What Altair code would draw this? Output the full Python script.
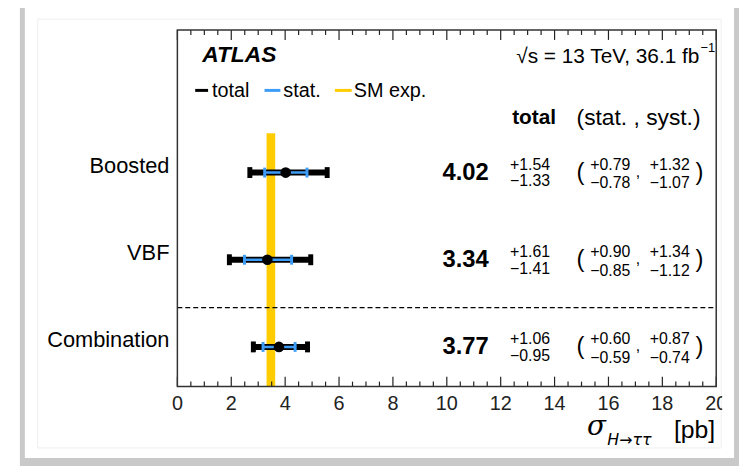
import altair as alt
import pandas as pd

# ---------------- data ----------------
categories = ["Boosted", "VBF", "Combination"]
row_pos = [2, 1, 0]
central = [4.02, 3.34, 3.77]
tot_up = [1.54, 1.61, 1.06]
tot_dn = [1.33, 1.41, 0.95]
stat_up = [0.79, 0.90, 0.60]
stat_dn = [0.78, 0.85, 0.59]
syst_up = [1.32, 1.34, 0.87]
syst_dn = [1.07, 1.12, 0.74]
sm_lo, sm_hi = 3.31, 3.63
sm_top = 2.45
sep_y = 0.45
major_ticks = [0, 2, 4, 6, 8, 10, 12, 14, 16, 18, 20]
minor_ticks = [i * 0.5 for i in range(41) if i % 4]

W, H = 544, 360
FONT = "Liberation Sans"
BLUE = "#3d9cf5"
GOLD = "#ffcc00"

df = pd.DataFrame({
    "cat": categories,
    "row": row_pos,
    "val": central,
    "lo": [c - d for c, d in zip(central, tot_dn)],
    "hi": [c + u for c, u in zip(central, tot_up)],
    "slo": [c - d for c, d in zip(central, stat_dn)],
    "shi": [c + u for c, u in zip(central, stat_up)],
    "t_val": [f"{c:.2f}" for c in central],
    "t_tu": [f"+{u:.2f}" for u in tot_up],
    "t_td": [f"\u2212{d:.2f}" for d in tot_dn],
    "t_su": [f"+{u:.2f}" for u in stat_up],
    "t_sd": [f"\u2212{d:.2f}" for d in stat_dn],
    "t_yu": [f"+{u:.2f}" for u in syst_up],
    "t_yd": [f"\u2212{d:.2f}" for d in syst_dn],
})
sm_df = pd.DataFrame({"lo": [sm_lo], "hi": [sm_hi], "top": [sm_top]})
sep_df = pd.DataFrame({"y": [sep_y]})
maj_df = pd.DataFrame({"t": major_ticks})
min_df = pd.DataFrame({"t": minor_ticks})
one = pd.DataFrame({"a": [0]})

xs = alt.Scale(domain=[0, 20], nice=False, zero=False)
ys = alt.Scale(domain=[-0.455, 3.636], nice=False, zero=False)

def X(f):
    return alt.X(f, type="quantitative", scale=xs, axis=None)

def Y(f):
    return alt.Y(f, type="quantitative", scale=ys, axis=None)

layers = []

# ---------------- card decoration ----------------
layers.append(alt.Chart(one).mark_rect(fill="#c9c9c9").encode(
    x=alt.value(-159), x2=alt.value(567), y=alt.value(-27), y2=alt.value(444)))
layers.append(alt.Chart(one).mark_rect(fill="white").encode(
    x=alt.value(-154), x2=alt.value(562), y=alt.value(-23), y2=alt.value(432)))
layers.append(alt.Chart(one).mark_rect(fill="white", stroke="#eeeeee", strokeWidth=1).encode(
    x=alt.value(-141), x2=alt.value(549), y=alt.value(-11), y2=alt.value(422)))

# ---------------- SM band ----------------
layers.append(alt.Chart(sm_df).mark_rect(color=GOLD).encode(
    x=X("lo"), x2="hi", y=Y("top"), y2=alt.value(H)))

# ---------------- separator ----------------
layers.append(alt.Chart(sep_df).mark_rule(color="black", strokeWidth=1.2, strokeDash=[5, 3]).encode(
    y=Y("y"), x=alt.value(0), x2=alt.value(W)))

# ---------------- error bars ----------------
layers.append(alt.Chart(df).mark_rule(color="black", strokeWidth=6).encode(
    x=X("lo"), x2="hi", y=Y("row")))
layers.append(alt.Chart(df).transform_fold(["lo", "hi"]).mark_tick(
    color="black", thickness=5, size=11, orient="vertical", opacity=1).encode(
    x=X("value"), y=Y("row")))
layers.append(alt.Chart(df).mark_rule(color=BLUE, strokeWidth=2.5).encode(
    x=X("slo"), x2="shi", y=Y("row")))
layers.append(alt.Chart(df).transform_fold(["slo", "shi"]).mark_tick(
    color=BLUE, thickness=3, size=10, orient="vertical", opacity=1).encode(
    x=X("value"), y=Y("row")))
layers.append(alt.Chart(df).mark_circle(color="black", size=115, opacity=1).encode(
    x=X("val"), y=Y("row")))

# ---------------- ticks ----------------
for d, ln in ((maj_df, 10), (min_df, 5)):
    layers.append(alt.Chart(d).mark_rule(color="#222222", strokeWidth=1.2).encode(
        x=X("t"), y=alt.value(H), y2=alt.value(H - ln)))
    layers.append(alt.Chart(d).mark_rule(color="#222222", strokeWidth=1.2).encode(
        x=X("t"), y=alt.value(0), y2=alt.value(ln)))

# tick labels
layers.append(alt.Chart(maj_df).mark_text(font=FONT, fontSize=20, align="center", baseline="middle",
                                          color="#222222").encode(
    x=X("t"), y=alt.value(H + 18), text=alt.Text("t", type="quantitative", format="d")))

# hide the part of the last label beyond the clipped picture edge
layers.append(alt.Chart(one).mark_rect(fill="white").encode(
    x=alt.value(550), x2=alt.value(561), y=alt.value(362), y2=alt.value(395)))

# ---------------- frame ----------------
layers.append(alt.Chart(one).mark_rect(fill="white", fillOpacity=0, stroke="#333333", strokeWidth=1.5).encode(
    x=alt.value(0), x2=alt.value(W), y=alt.value(0), y2=alt.value(H)))

# ---------------- row texts ----------------
def row_text(col, px, dy, size, align="center", weight="normal"):
    return alt.Chart(df).mark_text(font=FONT, fontSize=size, align=align, baseline="middle",
                                   dy=dy, fontWeight=weight, color="black").encode(
        x=alt.value(px), y=Y("row"), text=alt.Text(col, type="nominal"))

layers.append(row_text("cat", -8, -7, 22, align="right"))
layers.append(row_text("t_val", 291, 0, 24, weight="bold"))
layers.append(row_text("t_tu", 356, -8, 16))
layers.append(row_text("t_td", 356, 9, 16))
layers.append(row_text("t_su", 437, -8, 16))
layers.append(row_text("t_sd", 437, 11, 16))
layers.append(row_text("t_yu", 497, -8, 16))
layers.append(row_text("t_yd", 497, 11, 16))

def row_const(txt, px, dy, size):
    return alt.Chart(df).mark_text(font=FONT, fontSize=size, align="center", baseline="middle",
                                   dy=dy, color="black", text=txt).encode(
        x=alt.value(px), y=Y("row"))

layers.append(row_const("(", 407, 0, 24))
layers.append(row_const(",", 465, -1, 16))
layers.append(row_const(")", 527, 0, 24))

# ---------------- annotations ----------------
def note(txt, px, py, size, align="left", weight="normal", style="normal", font=FONT):
    return alt.Chart(one).mark_text(text=txt, font=font, fontSize=size, align=align,
                                    baseline="middle", fontWeight=weight, fontStyle=style,
                                    color="black").encode(x=alt.value(px), y=alt.value(py))

layers.append(note("ATLAS", 25, 25, 23, weight="bold", style="italic"))
layers.append(note("\u221as = 13 TeV, 36.1 fb", 527, 27, 21, align="right"))
layers.append(note("\u22121", 528, 18, 13))

leg = [("black", 18, 31, "total", 35), (BLUE, 88, 104, "stat.", 107), (GOLD, 159, 176, "SM exp.", 178)]
for col, a, b, txt, tx in leg:
    layers.append(alt.Chart(one).mark_rule(color=col, strokeWidth=3).encode(
        x=alt.value(a), x2=alt.value(b), y=alt.value(61)))
    layers.append(note(txt, tx, 62, 20))

layers.append(note("total", 338, 89, 21, weight="bold"))
layers.append(note("(stat. , syst.)", 403, 89, 23))

layers.append(note("\u03c3", 423, 401, 28, align="center", style="italic", font="DejaVu Serif"))
layers.append(note("H\u2192\u03c4\u03c4", 434, 414, 16, style="italic", font="DejaVu Sans"))
layers.append(note("[pb]", 543, 404, 25, align="right"))

chart = alt.layer(*layers).properties(
    width=W, height=H,
    autosize=alt.AutoSizeParams(type="none"),
    padding={"left": 171, "top": 20, "right": 24, "bottom": 78},
    background="white",
).configure_view(stroke=None)

chart.save("out.html", embed_options={"renderer": "svg", "actions": False})
